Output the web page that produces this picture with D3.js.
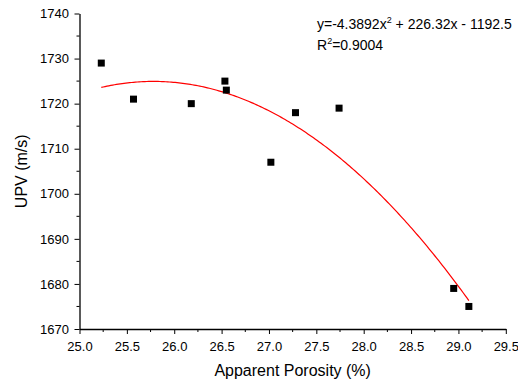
<!DOCTYPE html>
<html>
<head>
<meta charset="utf-8">
<script src="https://cdn.jsdelivr.net/npm/d3@7"></script>
<style>
  body { margin: 0; background: #fff; }
  svg { font-family: Arial, "Liberation Sans", sans-serif; }
</style>
</head>
<body>
<div id="chart"></div>
<script>
// measured points (apparent porosity %, UPV m/s)
const porosity = [25.23, 25.57, 26.18, 26.535, 26.55, 27.02, 27.28, 27.74, 28.95, 29.11];
const upv = [1729, 1721, 1720, 1725, 1723, 1707, 1718, 1719, 1679, 1675];
// quadratic fit shown on the chart: a*x^2 + b*x + c
const fitCoef = [-4.3892, 226.32, -1192.5];
const fitRange = [25.23, 29.11];
const xTicks = [25.0, 25.5, 26.0, 26.5, 27.0, 27.5, 28.0, 28.5, 29.0, 29.5];
const yTicks = [1670, 1680, 1690, 1700, 1710, 1720, 1730, 1740];

const W = 518, H = 383;
const margin = { top: 13.5, right: 12, bottom: 54, left: 79.5 };

const svg = d3.select('#chart').append('svg').attr('width', W).attr('height', H);
const g = svg.append('g').attr('transform', 'translate(' + margin.left + ',' + margin.top + ')');

const x = d3.scaleLinear().domain([25.0, 29.5]).range([0, 426.3]);
const y = d3.scaleLinear().domain([1670, 1740]).range([315.5, 0]);

// minor ticks
const xMinor = d3.range(25.25, 29.5, 0.5);
const yMinor = d3.range(1675, 1740, 10);

const xAxis = g.append('g').attr('transform', 'translate(0,' + y(1670) + ')');
xAxis.call(d3.axisBottom(x).tickValues(xTicks).tickFormat(d3.format('.1f')).tickSize(5).tickSizeOuter(0));
xAxis.append('g').selectAll('line').data(xMinor).join('line')
  .attr('x1', (d) => x(d)).attr('x2', (d) => x(d)).attr('y1', 0).attr('y2', 3)
  .attr('stroke', '#000');

const yAxis = g.append('g');
yAxis.call(d3.axisLeft(y).tickValues(yTicks).tickFormat(d3.format('d')).tickSize(5).tickSizeOuter(0));
yAxis.append('g').selectAll('line').data(yMinor).join('line')
  .attr('y1', (d) => y(d)).attr('y2', (d) => y(d)).attr('x1', 0).attr('x2', -3)
  .attr('stroke', '#000');

g.selectAll('.domain').attr('stroke', '#000').attr('stroke-width', 1.3);
g.selectAll('.tick line').attr('stroke', '#000');
xAxis.selectAll('.tick text').attr('font-size', 13).attr('dy', '1.05em').attr('fill', '#000');
yAxis.selectAll('.tick text').attr('font-size', 13).attr('dx', '-0.2em').attr('fill', '#000');

// axis titles
svg.append('text')
  .attr('x', margin.left + x(27.25)).attr('y', 376)
  .attr('text-anchor', 'middle').attr('font-size', 16)
  .text('Apparent Porosity (%)');

svg.append('text')
  .attr('transform', 'translate(27,' + (margin.top + y(1705)) + ') rotate(-90)')
  .attr('text-anchor', 'middle').attr('font-size', 16)
  .text('UPV (m/s)');

// fit curve
const fitX = d3.range(fitRange[0], fitRange[1], 0.02).concat([fitRange[1]]);
const fitLine = d3.line()
  .x((d) => x(d))
  .y((d) => y(fitCoef[0] * d * d + fitCoef[1] * d + fitCoef[2]));
g.append('path').datum(fitX)
  .attr('d', fitLine).attr('fill', 'none').attr('stroke', '#ff0000').attr('stroke-width', 1.2);

// points
const sq = 7;
g.selectAll('rect.pt').data(porosity).join('rect')
  .attr('class', 'pt')
  .attr('x', (d) => x(d) - sq / 2)
  .attr('y', (d, i) => y(upv[i]) - sq / 2)
  .attr('width', sq).attr('height', sq)
  .attr('fill', '#000');

// equation labels
const eq = svg.append('text').attr('x', 317).attr('y', 29).attr('font-size', 14);
eq.append('tspan').text('y=-4.3892x');
eq.append('tspan').attr('font-size', 9).attr('dy', -6).text('2');
eq.append('tspan').attr('dy', 6).text(' + 226.32x - 1192.5');

const r2 = svg.append('text').attr('x', 317).attr('y', 50).attr('font-size', 14);
r2.append('tspan').text('R');
r2.append('tspan').attr('font-size', 9).attr('dy', -6).text('2');
r2.append('tspan').attr('dy', 6).text('=0.9004');
</script>
</body>
</html>
